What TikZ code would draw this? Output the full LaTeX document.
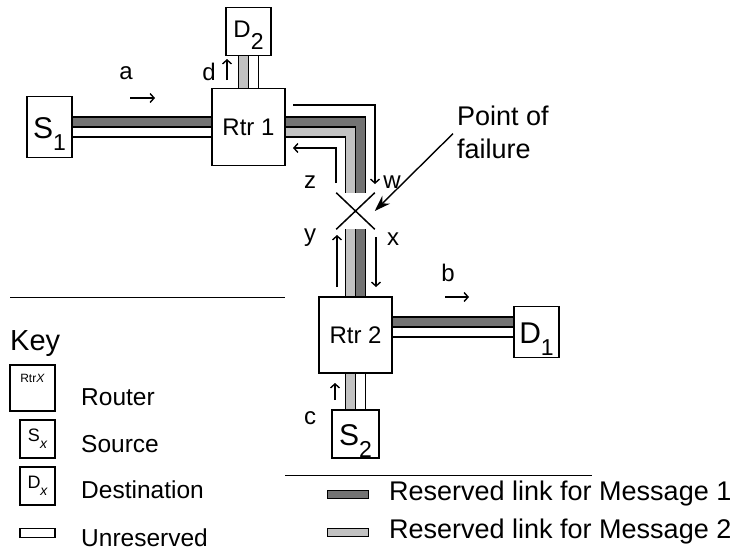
\documentclass[tikz,border=0pt]{standalone}
\usepackage{fontspec}
\setmainfont{Liberation Sans}
\usepackage{tikz}
\usetikzlibrary{arrows.meta,positioning,calc,shapes.misc}
\definecolor{msgdark}{gray}{0.45}
\definecolor{msglight}{gray}{0.76}
\newcommand{\lowsub}[1]{\raisebox{-12pt}{\fontsize{23}{23}\selectfont #1}}
\newcommand{\boxlabel}[3]{\rule{0pt}{#1}#2\lowsub{#3}}
\newcommand{\keysub}[1]{\raisebox{-7pt}{\fontsize{14}{14}\selectfont\itshape #1}}

\begin{document}
\begin{tikzpicture}[x=1pt, y=-1pt, >={Straight Barb[length=4pt,width=9pt]},
  every node/.style={font=\fontsize{24}{28}\selectfont},
  box/.style={draw, line width=1.5pt, inner sep=0pt},
  endbox/.style={box, minimum width=45pt, minimum height=50pt, font=\fontsize{30}{30}\selectfont},
  rtr/.style={box, minimum width=73pt, minimum height=77pt},
  lane/.style={line width=1.5pt, double distance=8.5pt},
  msgone/.style={lane, double=msgdark},
  msgtwo/.style={lane, double=msglight},
  free/.style={lane, double=white},
  flow/.style={->, line width=1.4pt},
  pointer/.style={-{Stealth[length=16pt,width=11pt]}, line width=1.4pt},
  keytext/.style={anchor=base west, inner sep=0pt, font=\fontsize{24.5}{28}\selectfont},
  legtext/.style={anchor=west, inner sep=0pt, font=\fontsize{27}{30}\selectfont}]
\useasboundingbox (0,0) rectangle (736,552);

% routers, sources, destinations
\node[rtr] (rtr1) at (248.5,127) {Rtr 1};
\node[rtr, minimum height=76pt] (rtr2) at (355.5,335) {Rtr 2};
\node[endbox, minimum height=61pt] (s1) at (49.5,127) {\boxlabel{34pt}{S}{1}};
\node[endbox, minimum height=48pt, font=\fontsize{24}{24}\selectfont] (d2) at (248.5,31.5) {\boxlabel{24pt}{D}{2}};
\node[endbox, minimum height=51pt] (d1) at (536.5,332) {\boxlabel{34pt}{D}{1}};
\node[endbox, minimum width=47pt, minimum height=48pt] (s2) at (355.5,434) {\boxlabel{34pt}{S}{2}};
\node[draw, cross out, line width=1.5pt, minimum width=37pt, minimum height=35pt, inner sep=0pt] (fail) at (355.5,211) {};

% links (two lanes each)
\draw[msgone] ($(s1.east)+(0,-5)$) -- ($(rtr1.west)+(0,-5)$);
\draw[free] ($(s1.east)+(0,5)$) -- ($(rtr1.west)+(0,5)$);
\draw[msgtwo] ($(rtr1.north)+(-5,0)$) -- ($(d2.south)+(-5,0)$);
\draw[free] ($(rtr1.north)+(5,0)$) -- ($(d2.south)+(5,0)$);
\draw[msgone] ($(rtr1.east)+(0,-5)$) -| ($(fail.north)+(5,0)$);
\draw[msgtwo] ($(rtr1.east)+(0,5)$) -| ($(fail.north)+(-5,0)$);
\draw[msgone] ($(fail.south)+(5,0)$) -- ($(rtr2.north)+(5,0)$);
\draw[msgtwo] ($(fail.south)+(-5,0)$) -- ($(rtr2.north)+(-5,0)$);
\draw[msgone] ($(rtr2.east)+(0,-13)$) -- ($(rtr2.east -| d1.west)+(0,-13)$);
\draw[free] ($(rtr2.east)+(0,-3)$) -- ($(rtr2.east -| d1.west)+(0,-3)$);
\draw[msgtwo] ($(rtr2.south)+(-5,0)$) -- ($(s2.north)+(-5,0)$);
\draw[free] ($(rtr2.south)+(5,0)$) -- ($(s2.north)+(5,0)$);

% direction arrows
\coordinate (atail) at (130,98);  \coordinate (ahead) at (155,98);
\coordinate (btail) at (445,297); \coordinate (bhead) at (469,297);
\coordinate (ctail) at (335,400); \coordinate (chead) at (335,383);
\coordinate (dtail) at (227,80);  \coordinate (dhead) at (227,59);
\coordinate (wtail) at (293,105); \coordinate (whead) at (375,184);
\coordinate (ztail) at (336,183); \coordinate (zhead) at (293,148);
\coordinate (ytail) at (337,287); \coordinate (yhead) at (337,235);
\coordinate (xtail) at (376,237); \coordinate (xhead) at (376,287);
\draw[flow] (atail) -- (ahead);
\draw[flow] (btail) -- (bhead);
\draw[flow] (ctail) -- (chead);
\draw[flow] (dtail) -- (dhead);
\draw[flow] (wtail) -| (whead);
\draw[flow] (ztail) |- (zhead);
\draw[flow] (ytail) -- (yhead);
\draw[flow] (xtail) -- (xhead);
\node (la) at (126,73) {a};
\node (lb) at (448,273) {b};
\node (lc) at (310,418) {c};
\node (ld) at (209,72) {d};
\node (lw) at (392,182) {w};
\node (lz) at (310,182) {z};
\node (ly) at (310,238) {y};
\node (lx) at (393,239) {x};

% point of failure
\node[anchor=north west, align=left, inner sep=0pt, font=\fontsize{27}{33}\selectfont] (pof) at (457,106) {Point of\\failure};
\draw[pointer] ($(pof.west)+(-4,1)$) -- (fail.east);

% key
\draw[line width=1pt] (10,297) -- (285,297);
\node[anchor=base west, inner sep=0pt, font=\fontsize{29}{29}\selectfont] (keyhead) at (10,350) {Key};
\node[box, minimum width=45pt, minimum height=46pt] (keyrtr) at (32.5,388) {};
\node[inner sep=0pt, font=\fontsize{12}{12}\selectfont, below=10pt of keyrtr.north] (keyrtrx) {Rtr\textit{X}};
\node[box, minimum width=35pt, minimum height=38pt, font=\fontsize{18}{18}\selectfont] (keysrc) at (37.5,439) {S\keysub{x}};
\node[box, minimum width=35pt, minimum height=38pt, font=\fontsize{18}{18}\selectfont] (keydst) at (37.5,486) {D\keysub{x}};
\node[box, line width=1.2pt, minimum width=35pt, minimum height=9pt] (keyfree) at (37.5,533) {};
\node[keytext] (lrouter) at (81,405) {Router};
\node[keytext] (lsource) at (81,452) {Source};
\node[keytext] (ldest) at (81,498) {Destination};
\node[keytext] (lfree) at (81,546) {Unreserved};

% message legend
\draw[line width=1pt] (285,475) -- (592,475);
\node[box, line width=1pt, fill=msgdark, minimum width=41pt, minimum height=8pt] (keyone) at (347.5,494) {};
\node[box, line width=1pt, fill=msglight, minimum width=41pt, minimum height=8pt] (keytwo) at (347.5,532) {};
\node[legtext] (lone) at (389,494) {Reserved link for Message 1};
\node[legtext] (ltwo) at (389,532) {Reserved link for Message 2};
\end{tikzpicture}
\end{document}
